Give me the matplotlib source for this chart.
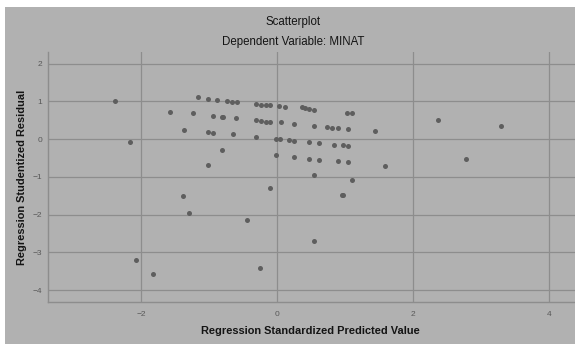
import matplotlib
matplotlib.use('Agg')
import matplotlib.pyplot as plt
from matplotlib.patches import Rectangle

plt.rcParams['font.family'] = ['Liberation Sans', 'DejaVu Sans']

# regression standardized predicted value / studentized residual
pred = [-2.39, -2.16, -1.58, -1.24, -1.37, -1.16, -1.38, -1.30, -2.08, -1.83,
        -1.02, -0.88, -0.74, -0.67, -0.59, -0.32, -0.24, -0.17, -0.10, 0.03,
        0.11, 0.37, 0.41, 0.46, 0.54, 1.03, 1.10, -0.95, -0.82, -0.80,
        -0.61, -0.32, -0.24, -0.17, -0.10, 0.06, 0.25, 0.54, 0.73, 0.81,
        0.89, 1.04, 1.44, -1.02, -0.95, -0.65, -0.32, -0.02, 0.04, 0.17,
        0.25, 0.46, 0.61, 0.84, 0.96, 1.04, -0.82, -0.02, 0.25, 0.46,
        0.61, 0.89, 1.04, -1.02, 0.54, 1.10, -0.10, 0.945, 0.96, 2.36,
        3.29, 1.59, 2.78, -0.44, -0.25, 0.54]
resid = [1.01, -0.07, 0.72, 0.68, 0.24, 1.11, -1.52, -1.97, -3.20, -3.58,
         1.06, 1.03, 1.00, 0.99, 0.98, 0.93, 0.91, 0.90, 0.89, 0.87,
         0.86, 0.86, 0.83, 0.79, 0.78, 0.70, 0.70, 0.61, 0.59, 0.58,
         0.55, 0.50, 0.47, 0.46, 0.45, 0.44, 0.39, 0.34, 0.31, 0.29,
         0.28, 0.26, 0.21, 0.18, 0.17, 0.12, 0.06, 0.01, 0.00, -0.02,
         -0.04, -0.08, -0.11, -0.16, -0.17, -0.18, -0.30, -0.43, -0.48, -0.52,
         -0.55, -0.59, -0.61, -0.69, -0.96, -1.08, -1.29, -1.49, -1.495, 0.50,
         0.34, -0.72, -0.54, -2.15, -3.43, -2.70]

xticks = [-2, 0, 2, 4]
yticks = [-4, -3, -2, -1, 0, 1, 2]

bg = '#b1b1b1'
line_col = '#8d8d8d'
text_col = '#141414'

fig = plt.figure(figsize=(5.75, 3.44), dpi=100, facecolor='white')
fig.patches.append(Rectangle((5 / 575, 0), 1, 1 - 7 / 344, transform=fig.transFigure,
                             facecolor=bg, edgecolor='none', zorder=-10))

ax = fig.add_axes([0.083, 0.1212, 0.917, 0.7285])
ax.set_facecolor(bg)
ax.scatter(pred, resid, s=13, color='#5e5e5e', linewidths=0, zorder=3)

ax.set_xlim(-3.376, 4.378)
ax.set_ylim(-4.326, 2.313)
ax.set_xticks(xticks)
ax.set_yticks(yticks)
ax.grid(True, color=line_col, linewidth=0.9)
ax.set_axisbelow(True)

for side in ['top', 'right']:
    ax.spines[side].set_visible(False)
for side in ['left', 'bottom']:
    ax.spines[side].set_color(line_col)
    ax.spines[side].set_linewidth(1.0)

ax.tick_params(length=0, labelsize=6, colors='#585858')
ax.tick_params(axis='x', pad=6)
ax.tick_params(axis='y', pad=4)

fig.text(0.510, 0.935, 'Scatterplot', ha='center', va='center', fontsize=8.3, color=text_col)
fig.text(0.510, 0.877, 'Dependent Variable: MINAT', ha='center', va='center', fontsize=8.3, color=text_col)
fig.text(0.5405, 0.039, 'Regression Standardized Predicted Value', ha='center', va='center',
         fontsize=7.9, fontweight='bold', color=text_col)
fig.text(0.038, 0.483, 'Regression Studentized Residual', ha='center', va='center', rotation=90,
         fontsize=7.9, fontweight='bold', color=text_col)

fig.savefig('out.png', dpi=100, facecolor=fig.get_facecolor())
